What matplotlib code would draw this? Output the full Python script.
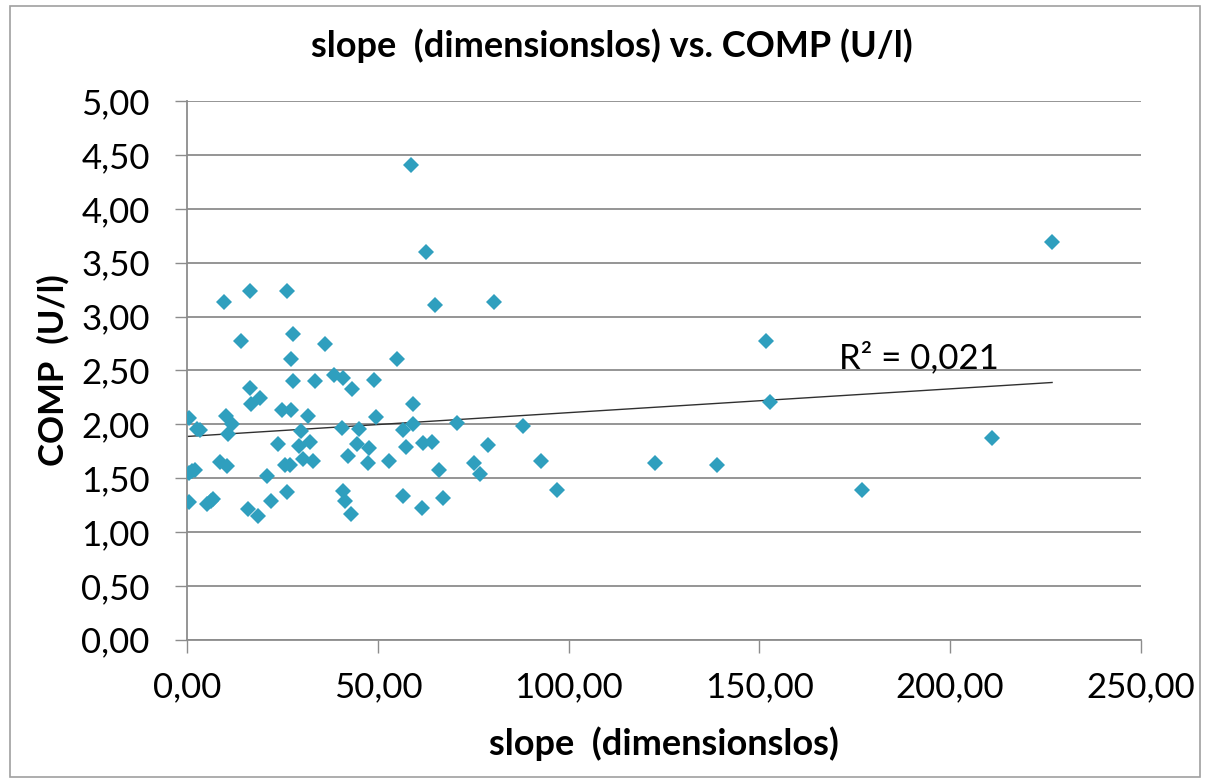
import numpy as np
import matplotlib
matplotlib.use("Agg")
import matplotlib.pyplot as plt
from matplotlib.ticker import FuncFormatter, MultipleLocator

# slope (dimensionslos) vs. COMP (U/l)
slope = [
    0.6, 2.5, 3.4, 10.1, 11.7, 10.6, 8.6, 10.4, 0.5, 1.3, 2.0, 20.8,
    0.5, 5.1, 6.2, 6.8, 16.0, 18.6, 22.0, 9.7, 16.5, 26.1, 14.0, 27.7,
    27.2, 36.1, 16.5, 16.7, 19.1, 27.8, 33.5, 38.6, 40.9, 43.3, 24.8, 27.1,
    31.8, 29.8, 40.5, 45.1, 23.9, 29.4, 32.2, 44.6, 47.7, 42.3, 25.6, 27.0,
    30.5, 33.1, 47.5, 26.1, 40.8, 41.4, 42.9,
    49.0, 49.5, 58.6, 62.5, 65.0, 80.5, 54.9, 59.1, 56.7, 59.1, 70.8, 88.0,
    57.4, 61.8, 64.1, 79.0, 53.0, 75.2, 76.8, 66.1, 92.8, 96.9, 56.7, 61.5,
    67.0,
    226.8, 151.8, 152.8, 211.1, 122.7, 139.0, 177.0,
]
comp = [
    2.06, 1.96, 1.95, 2.08, 2.00, 1.91, 1.65, 1.61, 1.55, 1.57, 1.58, 1.52,
    1.28, 1.26, 1.29, 1.31, 1.21, 1.15, 1.29, 3.14, 3.24, 3.24, 2.77, 2.84,
    2.61, 2.75, 2.34, 2.19, 2.24, 2.40, 2.40, 2.46, 2.43, 2.33, 2.13, 2.13,
    2.08, 1.94, 1.97, 1.96, 1.82, 1.80, 1.84, 1.82, 1.78, 1.71, 1.62, 1.62,
    1.68, 1.66, 1.64, 1.37, 1.38, 1.29, 1.17,
    2.41, 2.07, 4.41, 3.60, 3.11, 3.14, 2.61, 2.19, 1.95, 2.00, 2.01, 1.98,
    1.79, 1.83, 1.84, 1.81, 1.66, 1.64, 1.54, 1.58, 1.66, 1.39, 1.33, 1.22,
    1.32,
    3.69, 2.77, 2.21, 1.87, 1.64, 1.62, 1.39,
]
r2_label = "R² = 0,021"

x = np.asarray(slope)
y = np.asarray(comp)

fig = plt.figure(figsize=(12.1, 7.83), dpi=100)
ax = fig.add_axes([0.1547, 0.1830, 0.7879, 0.6878])

grid_color = "#8c8c8c"
ax.plot(x, y, linestyle="none", marker="D", markersize=8, color="#2f9fbe",
        markeredgewidth=0, zorder=3)

# linear trend line over the data range
k, d = np.polyfit(x, y, 1)
xt = np.array([0.0, x.max()])
ax.plot(xt, k * xt + d, color="#303030", linewidth=1.0, zorder=2)
ax.text(192, 2.62, r2_label, fontsize=25, family="Lato", ha="center",
        va="center", color="black")

ax.set_xlim(0, 250)
ax.set_ylim(0, 5)
ax.xaxis.set_major_locator(MultipleLocator(50))
ax.yaxis.set_major_locator(MultipleLocator(0.5))
fmt = FuncFormatter(lambda v, _: f"{v:.2f}".replace(".", ","))
ax.xaxis.set_major_formatter(fmt)
ax.yaxis.set_major_formatter(fmt)

ax.grid(axis="y", color=grid_color, linewidth=1.3)
ax.set_axisbelow(True)
for side in ("top", "right"):
    ax.spines[side].set_visible(False)
for side in ("left", "bottom"):
    ax.spines[side].set_color(grid_color)
    ax.spines[side].set_linewidth(1.3)
ax.tick_params(direction="out", length=9, width=1.0, color=grid_color,
               labelsize=25)
ax.tick_params(axis="x", pad=14)
ax.tick_params(axis="y", pad=18)
for lab in ax.get_xticklabels() + ax.get_yticklabels():
    lab.set_family("Lato")

ax.set_xlabel("slope  (dimensionslos)", fontsize=26, fontweight="bold",
              family="Lato", labelpad=16)
ax.set_ylabel("COMP  (U/l)", fontsize=25, fontweight="bold", family="Lato",
              labelpad=8)
fig.text(0.506, 0.942, "slope  (dimensionslos) vs. COMP (U/l)", fontsize=26,
         fontweight="bold", family="Lato", ha="center", va="center")

# thin frame round the whole chart
fig.patches.append(plt.Rectangle((0.008, 0.008), 0.984, 0.984,
                                 transform=fig.transFigure, fill=False,
                                 edgecolor="#a0a0a0", linewidth=1.2))

fig.savefig("out.png", dpi=100)
